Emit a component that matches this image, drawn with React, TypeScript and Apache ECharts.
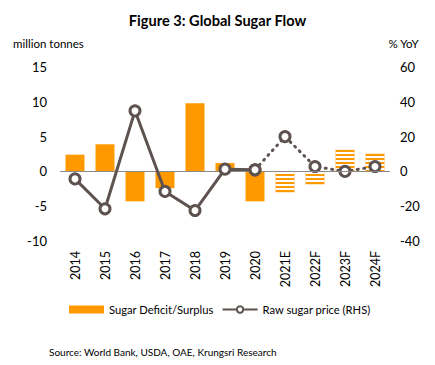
import React, { useEffect, useRef } from "react";
import * as echarts from "echarts";

const categories = ["2014", "2015", "2016", "2017", "2018", "2019", "2020", "2021E", "2022F", "2023F", "2024F"];
const balance = [2.4, 3.9, -4.3, -2.4, 9.8, 1.2, -4.3, -3.0, -1.9, 3.1, 2.6];
const forecastFlags = [false, false, false, false, false, false, false, true, true, true, true];
const priceActual = [-4.3, -21.5, 34.8, -11.5, -22.5, 1.3, 0.9, null, null, null, null];
const priceForecast = [null, null, null, null, null, null, 0.9, 20, 2.8, 0, 2.8];
const leftTicks = { min: -10, max: 15, interval: 5 };
const rightTicks = { min: -40, max: 60, interval: 20 };

const ORANGE = "#FF9900";
const GREY = "#5E5250";
const FONT = "Lato, 'Open Sans', sans-serif";

export default function App() {
  const ref = useRef<HTMLDivElement>(null);
  useEffect(() => {
    if (!ref.current) return;
    const chart = echarts.init(ref.current, undefined, { renderer: "svg" });
    const stripeDecal = {
      symbol: "rect",
      symbolSize: 1,
      dashArrayX: [[1, 0]],
      dashArrayY: [1.5, 1.8],
      rotation: 0,
      color: "#FFFFFF",
    };
    chart.setOption({
      animation: false,
      backgroundColor: "#FFFFFF",
      textStyle: { fontFamily: FONT },
      title: {
        text: "Figure 3: Global Sugar Flow",
        left: "center",
        top: 8,
        textStyle: { fontFamily: FONT, fontSize: 14.6, fontWeight: "bold", color: "#000" },
      },
      graphic: [
        { type: "text", left: 13, top: 37, style: { text: "million tonnes", font: `11.5px ${FONT}`, fill: "#000" } },
        { type: "text", right: 16, top: 37, style: { text: "% YoY", font: `11.5px ${FONT}`, fill: "#000" } },
        { type: "text", left: 49, top: 347, style: { text: "Source: World Bank, USDA, OAE, Krungsri Research", font: `10px ${FONT}`, fill: "#000" } },
      ],
      legend: {
        bottom: 45,
        left: 64,
        itemGap: 8,
        itemWidth: 35,
        itemHeight: 8,
        textStyle: { fontFamily: FONT, fontSize: 11.2, color: "#000" },
        data: [
          { name: "Sugar Deficit/Surplus", icon: "rect" },
          { name: "Raw sugar price (RHS)" },
        ],
      },
      grid: { left: 60, right: 45, top: 67, bottom: 124 },
      xAxis: {
        type: "category",
        data: categories,
        axisLine: { show: false },
        axisTick: { show: false },
        axisLabel: { rotate: 90, fontSize: 12.5, color: "#000", margin: 10, fontFamily: FONT },
      },
      yAxis: [
        {
          type: "value",
          ...leftTicks,
          splitLine: { show: false },
          axisLine: { show: false },
          axisTick: { show: false },
          axisLabel: { fontSize: 13, color: "#000", margin: 13, fontFamily: FONT },
        },
        {
          type: "value",
          ...rightTicks,
          splitLine: { show: false },
          axisLine: { show: false },
          axisTick: { show: false },
          axisLabel: { fontSize: 13, color: "#000", margin: 10, fontFamily: FONT },
        },
      ],
      series: [
        {
          name: "Sugar Deficit/Surplus",
          type: "bar",
          barWidth: 19,
          itemStyle: { color: ORANGE },
          data: balance.map((v, i) =>
            forecastFlags[i] ? { value: v, itemStyle: { color: ORANGE, decal: stripeDecal } } : v
          ),
          markLine: {
            silent: true,
            symbol: "none",
            label: { show: false },
            lineStyle: { color: "#8a8a8a", width: 1, type: "solid" },
            data: [{ yAxis: 0 }],
          },
        },
        {
          name: "Raw sugar price (RHS)",
          type: "line",
          yAxisIndex: 1,
          data: priceActual,
          symbol: "circle",
          symbolSize: 10,
          lineStyle: { color: GREY, width: 3 },
          itemStyle: { color: "#FFFFFF", borderColor: GREY, borderWidth: 3 },
          z: 5,
        },
        {
          name: "Raw sugar price forecast",
          type: "line",
          yAxisIndex: 1,
          data: priceForecast,
          symbol: "circle",
          symbolSize: 10,
          lineStyle: { color: GREY, width: 3, type: [1, 5.5], cap: "round" },
          itemStyle: { color: "#FFFFFF", borderColor: GREY, borderWidth: 3 },
          z: 4,
        },
      ],
    });
    return () => chart.dispose();
  }, []);
  return <div ref={ref} style={{ width: 435, height: 365, position: "absolute", left: 0, top: 0 }} />;
}
